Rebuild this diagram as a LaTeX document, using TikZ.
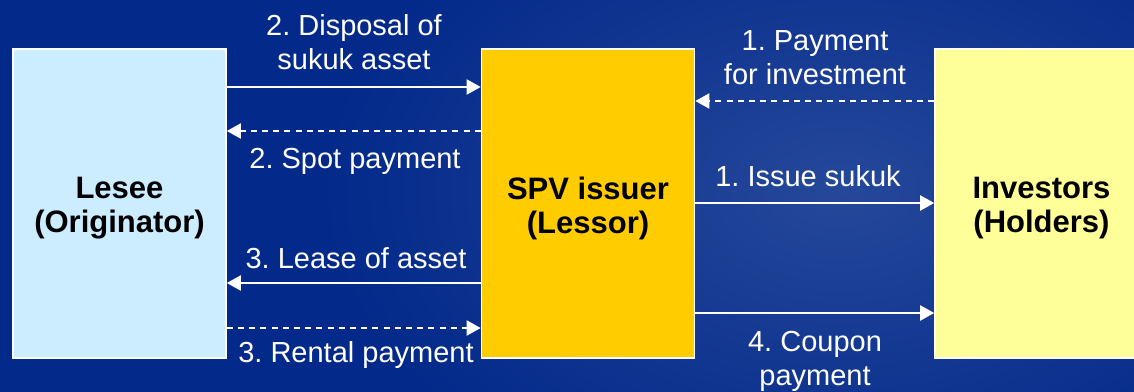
\documentclass[tikz,border=0pt]{standalone}
\usepackage{fontspec}
\setmainfont{Liberation Sans}
\usetikzlibrary{arrows.meta}
\frenchspacing
\definecolor{bgblue}{HTML}{03298A}
\definecolor{bglight}{HTML}{25489A}
\definecolor{lesfill}{HTML}{CCECFF}
\definecolor{spvfill}{HTML}{FFCC00}
\definecolor{invfill}{HTML}{FFFF99}
\tikzset{
  party/.style={draw=white, line width=0.8pt, inner sep=0pt, minimum width=106.5pt, minimum height=154.5pt},
  partytext/.style={inner sep=0pt, align=center, font=\bfseries\fontsize{15.5}{17}\selectfont, text=black},
  lbl/.style={inner sep=0pt, align=center, text=white, font=\fontsize{14.5}{17}\selectfont},
  flow/.style={draw=white, line width=1pt, -{Triangle[length=7pt,width=7.5pt]}},
  dflow/.style={flow, dash pattern=on 3pt off 2.6pt}
}
\begin{document}
\begin{tikzpicture}[x=0.5pt,y=-0.5pt]
\useasboundingbox (0,0) rectangle (1134,391);
\fill[bgblue] (-20,-20) rectangle (1154,411);
\shade[inner color=bglight, outer color=bgblue] (840,190) ellipse [x radius=520, y radius=330];
\node[party, fill=lesfill] (les) at (119.5,203.5) {};
\node[party, fill=spvfill] (spv) at (588,203.5) {};
\node[party, fill=invfill] (inv) at (1041.5,203.5) {};
\node[partytext] (lest) at ([yshift=-2.5pt]les.center) {Lesee\\(Originator)};
\node[partytext] (spvt) at ([yshift=-2.5pt]spv.center) {SPV issuer\\(Lessor)};
\node[partytext] (invt) at ([yshift=-2.5pt]inv.center) {Investors\\(Holders)};
\draw[flow] (les.east |- 0,87) -- (spv.west |- 0,87);
\draw[dflow] (spv.west |- 0,131) -- (les.east |- 0,131);
\draw[flow] (spv.west |- 0,283) -- (les.east |- 0,283);
\draw[dflow] (les.east |- 0,328) -- (spv.west |- 0,328);
\draw[dflow] (inv.west |- 0,101) -- (spv.east |- 0,101);
\draw[flow] (spv.east |- 0,203) -- (inv.west |- 0,203);
\draw[flow] (spv.east |- 0,313) -- (inv.west |- 0,313);
\node[lbl] (l1) at (354,42) {2. Disposal of\\sukuk asset};
\node[lbl] (l2) at (355,161) {2. Spot payment};
\node[lbl] (l3) at (356,258) {3. Lease of asset};
\node[lbl] (l4) at (356,355) {3. Rental payment};
\node[lbl] (l5) at (815,58) {1. Payment\\for investment};
\node[lbl] (l6) at (808,176) {1. Issue sukuk};
\node[lbl] (l7) at (815,361) {4. Coupon\\payment};
\end{tikzpicture}
\end{document}
